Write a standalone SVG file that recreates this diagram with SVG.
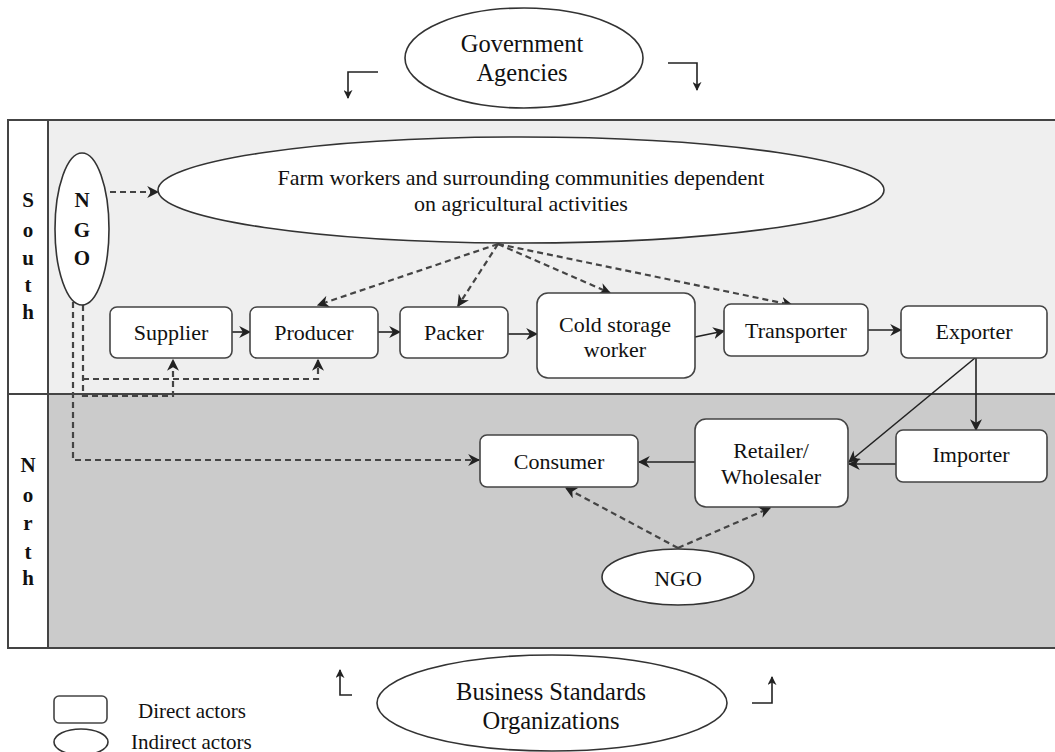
<svg xmlns="http://www.w3.org/2000/svg" width="1055" height="752" viewBox="0 0 1055 752">
<style>
text{font-family:"Liberation Serif","Times New Roman",serif;fill:#111;text-anchor:middle;dominant-baseline:central}
.t{font-size:22px}
.big{font-size:24.5px}
.lg{font-size:21px;text-anchor:start}
.lab{font-size:21px;font-weight:bold}
.box{fill:#fff;stroke:#444;stroke-width:1.6}
.ell{fill:#fff;stroke:#333;stroke-width:1.6}
.solid{fill:none;stroke:#222;stroke-width:1.6}
.dash{fill:none;stroke:#444;stroke-width:2.2;stroke-dasharray:6 4}
</style>
<defs>
<marker id="ah" viewBox="0 0 10 10" refX="9" refY="5" markerWidth="9" markerHeight="9" markerUnits="userSpaceOnUse" orient="auto">
<path d="M0,0 L10,5 L0,10 L3,5 z" fill="#222"/>
</marker>
<marker id="ahb" viewBox="0 0 10 10" refX="9" refY="5" markerWidth="12" markerHeight="12" markerUnits="userSpaceOnUse" orient="auto">
<path d="M0,0 L10,5 L0,10 L3,5 z" fill="#222"/>
</marker>
</defs>
<rect width="1055" height="752" fill="#fff"/>
<g id="regions">
<rect x="48" y="120" width="1012" height="274" fill="#efefef"/>
<rect x="48" y="394" width="1012" height="254" fill="#cbcbcb"/>
<rect x="8" y="120" width="1052" height="528" fill="none" stroke="#444" stroke-width="2"/>
<line x1="48" y1="120" x2="48" y2="648" stroke="#444" stroke-width="2"/>
<line x1="8" y1="394" x2="1060" y2="394" stroke="#444" stroke-width="2"/>
<text class="lab" x="28" y="200">S</text>
<text class="lab" x="28" y="230">o</text>
<text class="lab" x="28" y="258">u</text>
<text class="lab" x="28" y="285">t</text>
<text class="lab" x="28" y="312">h</text>
<text class="lab" x="28" y="465">N</text>
<text class="lab" x="28" y="495">o</text>
<text class="lab" x="28" y="523">r</text>
<text class="lab" x="28" y="552">t</text>
<text class="lab" x="28" y="578">h</text>
</g>
<g id="connectors">
<path class="solid" d="M378,72 H348 V98" marker-end="url(#ah)"/>
<path class="solid" d="M668,63 H697 V90" marker-end="url(#ah)"/>
<path class="solid" d="M352,695 H340 V670" marker-end="url(#ah)"/>
<path class="solid" d="M752,703 H772 V677" marker-end="url(#ah)"/>
<path class="dash" d="M110,192 H158" marker-end="url(#ahb)"/>
<path class="dash" d="M498,244 L318,305" marker-end="url(#ahb)"/>
<path class="dash" d="M498,244 L458,306" marker-end="url(#ahb)"/>
<path class="dash" d="M498,244 L610,293" marker-end="url(#ahb)"/>
<path class="dash" d="M498,244 L792,305" marker-end="url(#ahb)"/>
<path class="dash" d="M83,305 V396 H173 V360" marker-end="url(#ahb)"/>
<path class="dash" d="M83,379 H318 V360" marker-end="url(#ahb)"/>
<path class="dash" d="M73,302 V460 H479" marker-end="url(#ahb)"/>
<path class="solid" d="M232,332 H250" marker-end="url(#ahb)"/>
<path class="solid" d="M378,332 H400" marker-end="url(#ahb)"/>
<path class="solid" d="M508,334 H537" marker-end="url(#ahb)"/>
<path class="solid" d="M695,337 L724,331" marker-end="url(#ahb)"/>
<path class="solid" d="M868,330 H901" marker-end="url(#ahb)"/>
<path class="solid" d="M976,358 V430" marker-end="url(#ahb)"/>
<path class="solid" d="M975,358 L849,462" marker-end="url(#ahb)"/>
<path class="solid" d="M896,464 H849" marker-end="url(#ahb)"/>
<path class="solid" d="M695,462 H639" marker-end="url(#ahb)"/>
<path class="dash" d="M678,548 L566,488" marker-end="url(#ahb)"/>
<path class="dash" d="M678,548 L770,508" marker-end="url(#ahb)"/>
</g>
<g id="gov">
<ellipse class="ell" cx="524" cy="58" rx="119" ry="50"/>
<text class="big" x="522" y="43">Government</text>
<text class="big" x="522" y="72">Agencies</text>
</g>
<g id="farm">
<ellipse class="ell" cx="521" cy="190" rx="363" ry="53"/>
<text class="t" x="521" y="177">Farm workers and surrounding communities dependent</text>
<text class="t" x="521" y="203">on agricultural activities</text>
</g>
<g id="ngo-south">
<ellipse class="ell" cx="82" cy="229" rx="27" ry="76"/>
<text class="lab" x="82" y="200">N</text>
<text class="lab" x="82" y="230">G</text>
<text class="lab" x="82" y="258">O</text>
</g>
<g id="supplier"><rect class="box" x="110" y="307" width="122" height="51" rx="7"/><text class="t" x="171" y="332">Supplier</text></g>
<g id="producer"><rect class="box" x="250" y="307" width="128" height="51" rx="7"/><text class="t" x="314" y="332">Producer</text></g>
<g id="packer"><rect class="box" x="400" y="307" width="108" height="51" rx="7"/><text class="t" x="454" y="332">Packer</text></g>
<g id="cold"><rect class="box" x="537" y="293" width="158" height="85" rx="11"/><text class="t" x="615" y="324">Cold storage</text><text class="t" x="615" y="349">worker</text></g>
<g id="transporter"><rect class="box" x="724" y="304" width="144" height="52" rx="7"/><text class="t" x="796" y="330">Transporter</text></g>
<g id="exporter"><rect class="box" x="901" y="306" width="146" height="52" rx="7"/><text class="t" x="974" y="331">Exporter</text></g>
<g id="consumer"><rect class="box" x="480" y="435" width="158" height="52" rx="7"/><text class="t" x="559" y="461">Consumer</text></g>
<g id="retailer"><rect class="box" x="695" y="419" width="153" height="88" rx="11"/><text class="t" x="771" y="450">Retailer/</text><text class="t" x="771" y="476">Wholesaler</text></g>
<g id="importer"><rect class="box" x="896" y="430" width="151" height="52" rx="7"/><text class="t" x="971" y="454">Importer</text></g>
<g id="ngo-north"><ellipse class="ell" cx="678" cy="577" rx="76" ry="28"/><text class="t" x="678" y="578">NGO</text></g>
<g id="business">
<ellipse class="ell" cx="552" cy="703" rx="175" ry="48"/>
<text class="big" x="551" y="691">Business Standards</text>
<text class="big" x="551" y="720">Organizations</text>
</g>
<g id="legend">
<rect class="box" x="54" y="696" width="53" height="27" rx="5" stroke="#333"/>
<text class="lg" x="138" y="711">Direct actors</text>
<ellipse class="ell" cx="81" cy="742" rx="27" ry="13"/>
<text class="lg" x="131" y="742">Indirect actors</text>
</g>
</svg>
